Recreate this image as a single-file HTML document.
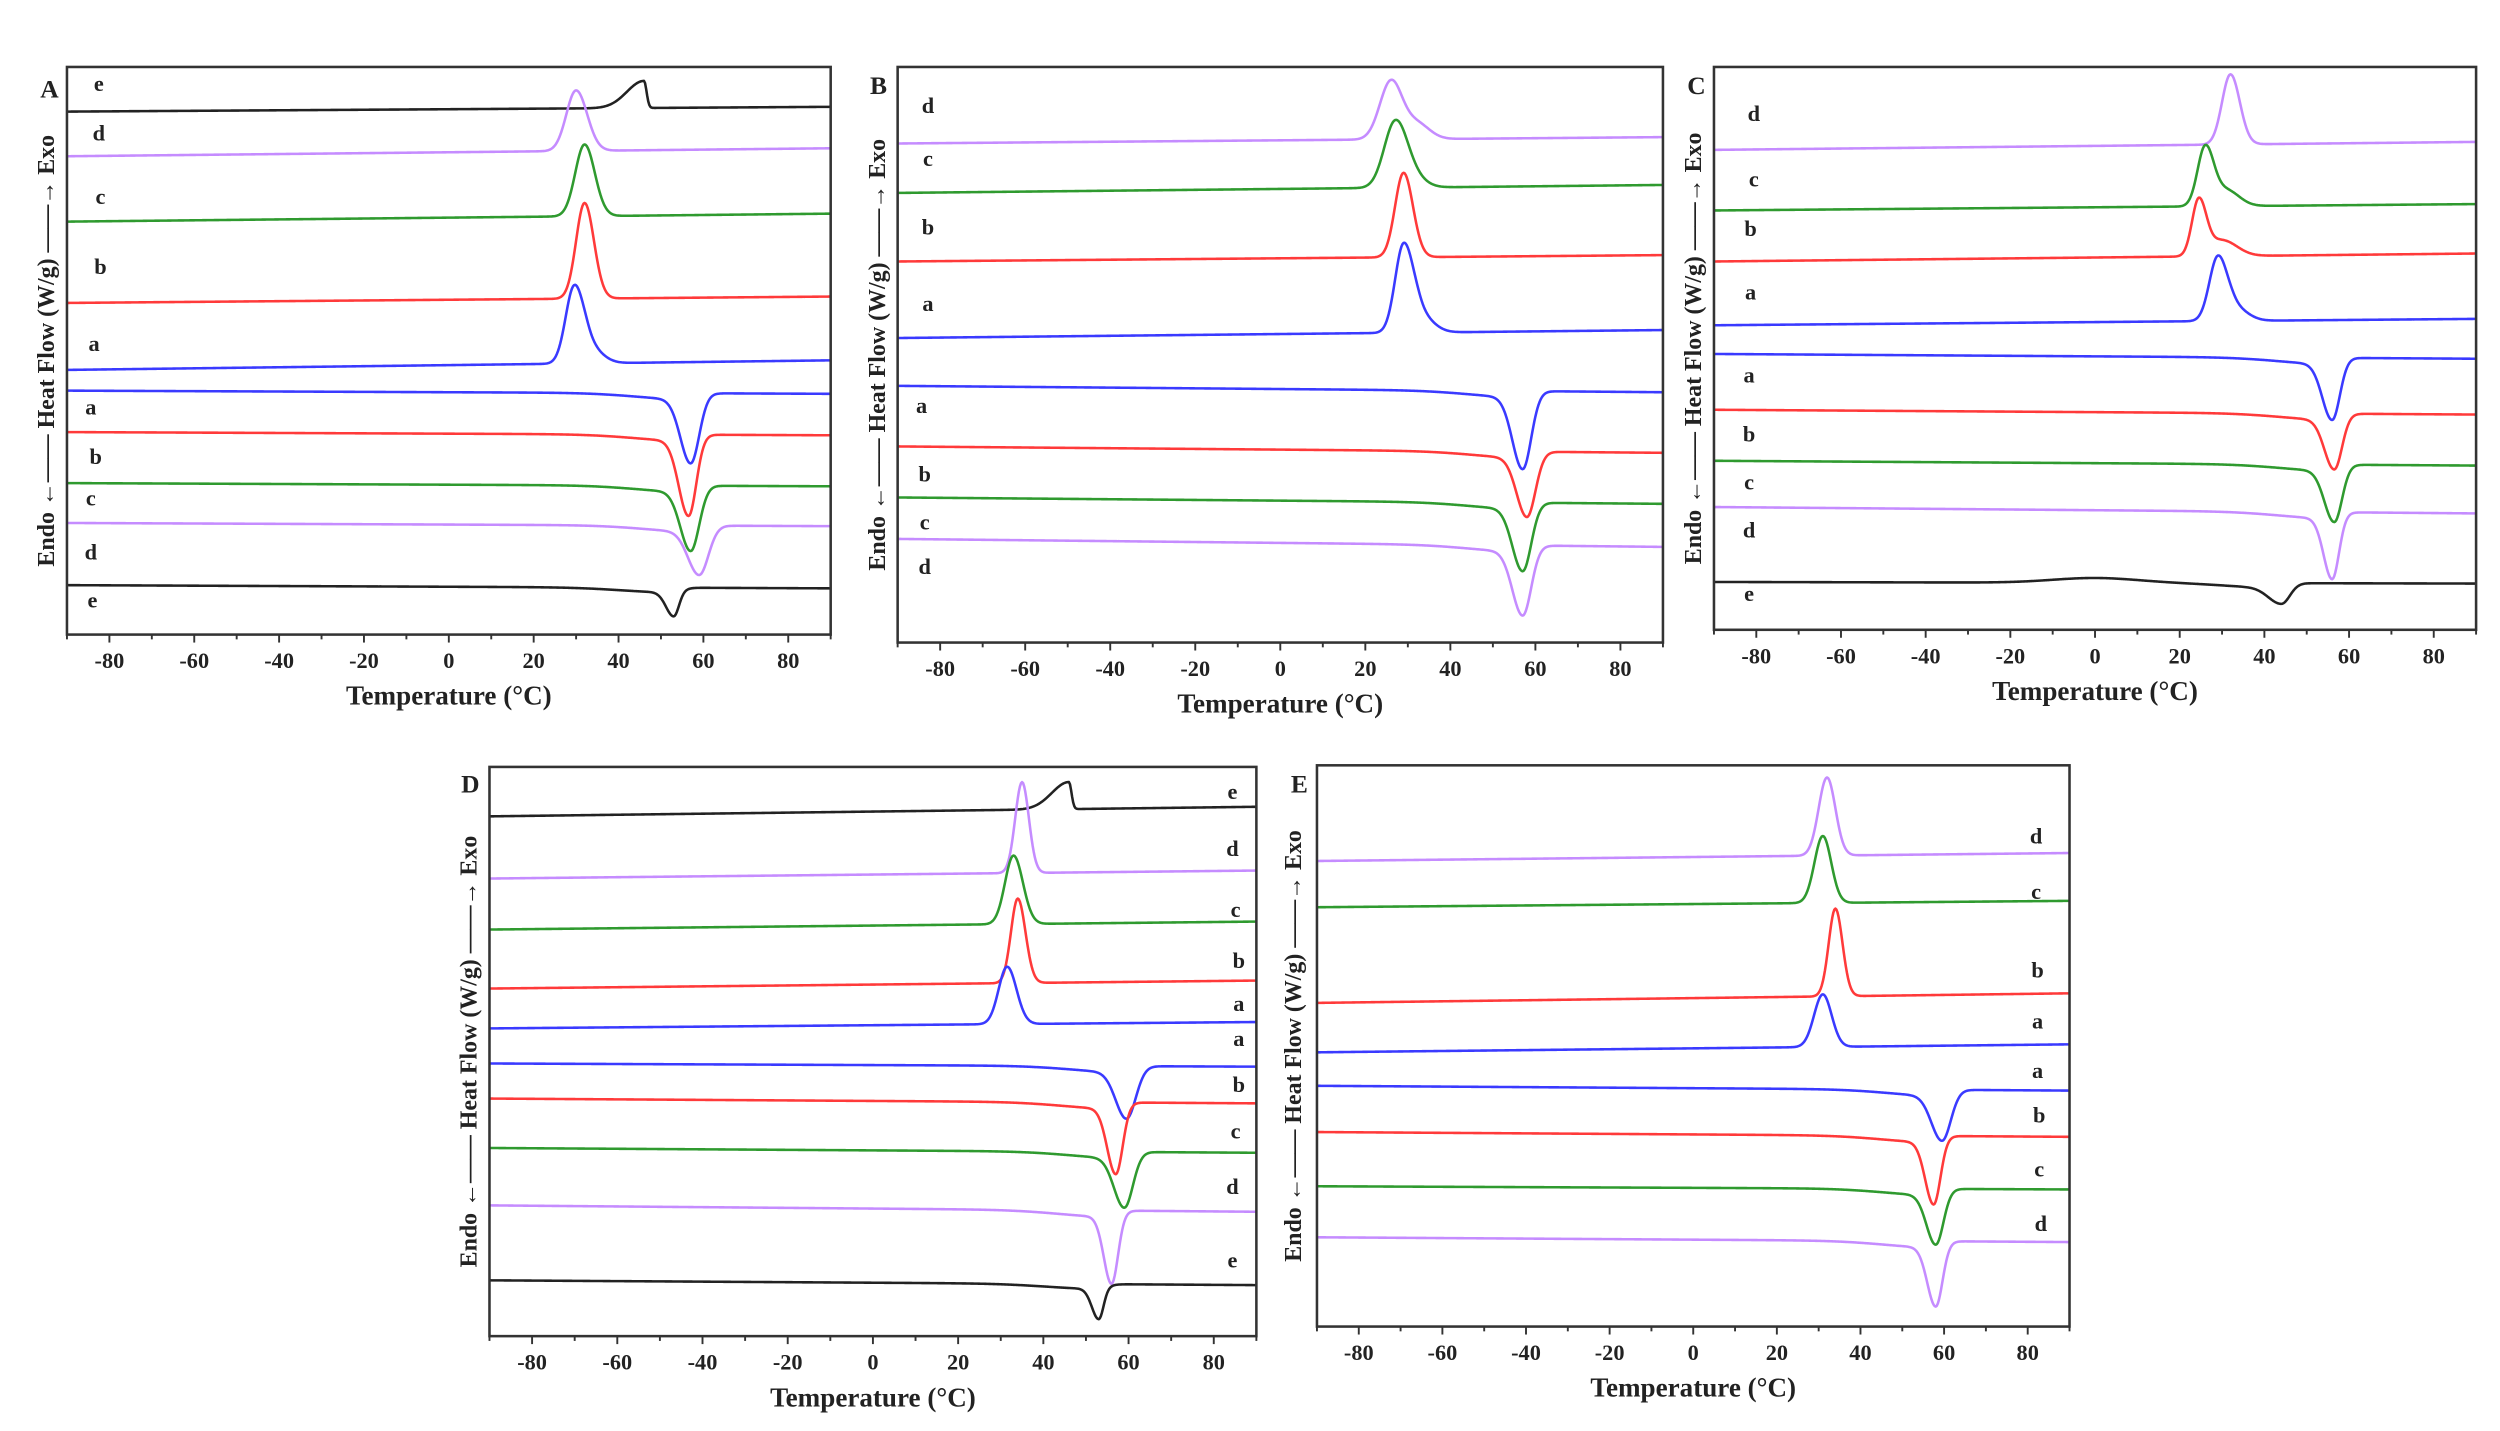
<!DOCTYPE html>
<html><head><meta charset="utf-8">
<style>
html,body{margin:0;padding:0;background:#fff;}
svg{display:block;}
text{font-family:"Liberation Serif",serif;font-weight:bold;fill:#222;}
</style></head>
<body>
<svg id="s" xmlns="http://www.w3.org/2000/svg" width="2500" height="1431" viewBox="0 0 1568 897.5" preserveAspectRatio="none">
<rect x="0" y="0" width="1568" height="897.5" fill="#fff"/>
</svg>
<script>
var NS="http://www.w3.org/2000/svg",S=document.getElementById('s');
function el(t,a,txt){var e=document.createElementNS(NS,t);for(var k in a)e.setAttribute(k,a[k]);if(txt!=null)e.textContent=txt;S.appendChild(e);return e;}
var C={a:"#3a3aff",b:"#ff3a3a",c:"#2f9a2f",d:"#c58cff",e:"#222"};
function pk(T,p){var w=T<p[0]?p[2]:p[3];var z=(T-p[0])/w;return p[1]*Math.exp(-z*z/2);}
function panel(P){
  var x0=P.x0,x1=P.x1,y0=P.y0,y1=P.y1;
  function X(T){return x0+(T+90)/180*(x1-x0);}
  P.curves.forEach(function(c){
    var d="";
    var ps=c[3].map(function(p){ if(p[4]==="s") return [p[0],p[1],12,2]; return p;});
    for(var T=-90;T<=90;T+=0.25){
      var y=c[1]+(c[2]-c[1])*(T+90)/180;
      ps.forEach(function(p){y+=pk(T,p);});
      d+=(T==-90?"M":"L")+X(T).toFixed(2)+","+y.toFixed(2);
    }
    el("path",{d:d,fill:"none",stroke:C[c[0]],"stroke-width":1.6,"stroke-linejoin":"round"});
  });
  el("rect",{x:x0,y:y0,width:x1-x0,height:y1-y0,fill:"none",stroke:"#333","stroke-width":1.6});
  for(var T=-90;T<=90;T+=10){
    var mj=(T%20==0);
    el("line",{x1:X(T),x2:X(T),y1:y1,y2:y1+(mj?5:3),stroke:"#333","stroke-width":1.2});
    if(mj&&T>=-80&&T<=80) el("text",{x:X(T),y:y1+21,"text-anchor":"middle","font-size":14},T<0?"-"+(-T):""+T);
  }
  el("text",{x:(x0+x1)/2,y:y1+44,"text-anchor":"middle","font-size":17},"Temperature (°C)");
  var yl=P.ylx,ym=(y0+y1)/2;
  el("text",{x:yl,y:ym,"text-anchor":"middle","font-size":15,transform:"rotate(-90 "+yl+" "+ym+")"},"Endo \u2190\u2014\u2014 Heat Flow (W/g) \u2014\u2014\u2192 Exo");
  el("text",{x:P.L[0],y:P.L[1],"text-anchor":"middle","font-size":16},P.name);
  P.labels.forEach(function(l){el("text",{x:l[1],y:l[2],"text-anchor":"middle","font-size":14},l[0]);});
}
panel({name:"A",x0:42,x1:521,y0:42,y1:398,ylx:34,L:[31,61],
curves:[
["e",70,67,[[46,-17,4,0.6]]],
["d",98,93,[[30,-38,2.3,2.6]]],
["c",139,134,[[32,-45,2.2,2.4]]],
["b",190,186,[[32,-60,2,2.2]]],
["a",232,226,[[29.5,-47,2,2.2],[33,-10,2,3]]],
["a",245,247,[[57,40,2.4,2],[57,4,0,0,"s"]]],
["b",271,273,[[56.5,47,2.3,1.8],[56.5,4,0,0,"s"]]],
["c",303,305,[[57,37,2.4,2],[57,4,0,0,"s"]]],
["d",328,330,[[59,27,2.6,2.2],[59,4,0,0,"s"]]],
["e",367,369,[[53,15,1.8,1.2],[53,3,0,0,"s"]]]
],
labels:[["e",62,57],["d",62,88],["c",63,128],["b",63,172],["a",59,220],["a",57,260],["b",60,291],["c",57,317],["d",57,351],["e",58,381]]});
panel({name:"B",x0:563,x1:1043,y0:42,y1:403,ylx:555,L:[551,59],
curves:[
["d",90,86,[[26,-36,2.6,2.6],[32,-10,3,3]]],
["c",121,116,[[27,-40,2.6,2.8],[31,-6,3,3]]],
["b",164,160,[[29,-53,2,2.2]]],
["a",212,207,[[29,-55,2,2.3],[33,-10,2,3]]],
["a",242,246,[[57,45,2.4,2],[57,4,0,0,"s"]]],
["b",280,284,[[58,37,2.4,2],[58,4,0,0,"s"]]],
["c",312,316,[[57,39,2.4,2],[57,4,0,0,"s"]]],
["d",338,343,[[57,40,2.4,2],[57,4,0,0,"s"]]]
],
labels:[["d",582,71],["c",582,104],["b",582,147],["a",582,195],["a",578,259],["b",580,302],["c",580,332],["d",580,360]]});
panel({name:"C",x0:1075,x1:1553,y0:42,y1:395,ylx:1067,L:[1064,59],
curves:[
["d",94,89,[[32,-44,2,2.2]]],
["c",132,128,[[26,-36,1.8,2],[31,-10,3,3]]],
["b",164,159,[[24.5,-35,1.6,1.8],[30,-10,3,3.5]]],
["a",204,200,[[29,-40,2,2.2],[33,-8,2,3]]],
["a",222,225,[[56,35,2.3,1.8],[56,4,0,0,"s"]]],
["b",257,260,[[56.5,31,2.3,1.8],[56.5,4,0,0,"s"]]],
["c",289,292,[[56.5,32,2.3,1.8],[56.5,4,0,0,"s"]]],
["d",318,322,[[56,38,2,1.6],[56,4,0,0,"s"]]],
["e",365,366,[[0,-3,10,10],[44,10,3,2],[44,3,0,0,"s"]]]
],
labels:[["d",1100,76],["c",1100,117],["b",1098,148],["a",1098,188],["a",1097,240],["b",1097,277],["c",1097,307],["d",1097,337],["e",1097,377]]});
panel({name:"D",x0:307,x1:788,y0:481,y1:838,ylx:299,L:[295,497],
curves:[
["e",512,506,[[46,-17,4,0.6]]],
["d",551,546,[[35,-57,1.6,1.6]]],
["c",583,578,[[33,-43,2,2.2]]],
["b",620,615,[[34,-53,1.6,1.8]]],
["a",645,641,[[31.5,-36,2,2.2]]],
["a",667,669,[[59.5,29,2.5,2.2],[59.5,4,0,0,"s"]]],
["b",689,692,[[57,41,2,1.6],[57,4,0,0,"s"]]],
["c",720,723,[[59,31,2.4,2],[59,4,0,0,"s"]]],
["d",756,760,[[56,42,1.8,1.5],[56,4,0,0,"s"]]],
["e",803,806,[[53,19,1.6,1.1],[53,3,0,0,"s"]]]
],
labels:[["e",773,501],["d",773,537],["c",775,575],["b",777,607],["a",777,634],["a",777,656],["b",777,685],["c",775,714],["d",773,749],["e",773,795]]});
panel({name:"E",x0:826,x1:1298,y0:480,y1:832,ylx:816,L:[815,497],
curves:[
["d",540,535,[[32,-49,2,2]]],
["c",569,565,[[31,-42,2,2]]],
["b",629,623,[[34,-55,1.6,1.7]]],
["a",660,655,[[31,-33,2.1,2.1]]],
["a",681,684,[[59.5,28,2.5,2.1],[59.5,4,0,0,"s"]]],
["b",710,713,[[57.5,39,2,1.6],[57.5,4,0,0,"s"]]],
["c",744,746,[[58,31,2.2,1.8],[58,4,0,0,"s"]]],
["d",776,779,[[58,37,2,1.6],[58,4,0,0,"s"]]]
],
labels:[["d",1277,529],["c",1277,564],["b",1278,613],["a",1278,645],["a",1278,676],["b",1279,704],["c",1279,738],["d",1280,772]]});
</script>
</body></html>
